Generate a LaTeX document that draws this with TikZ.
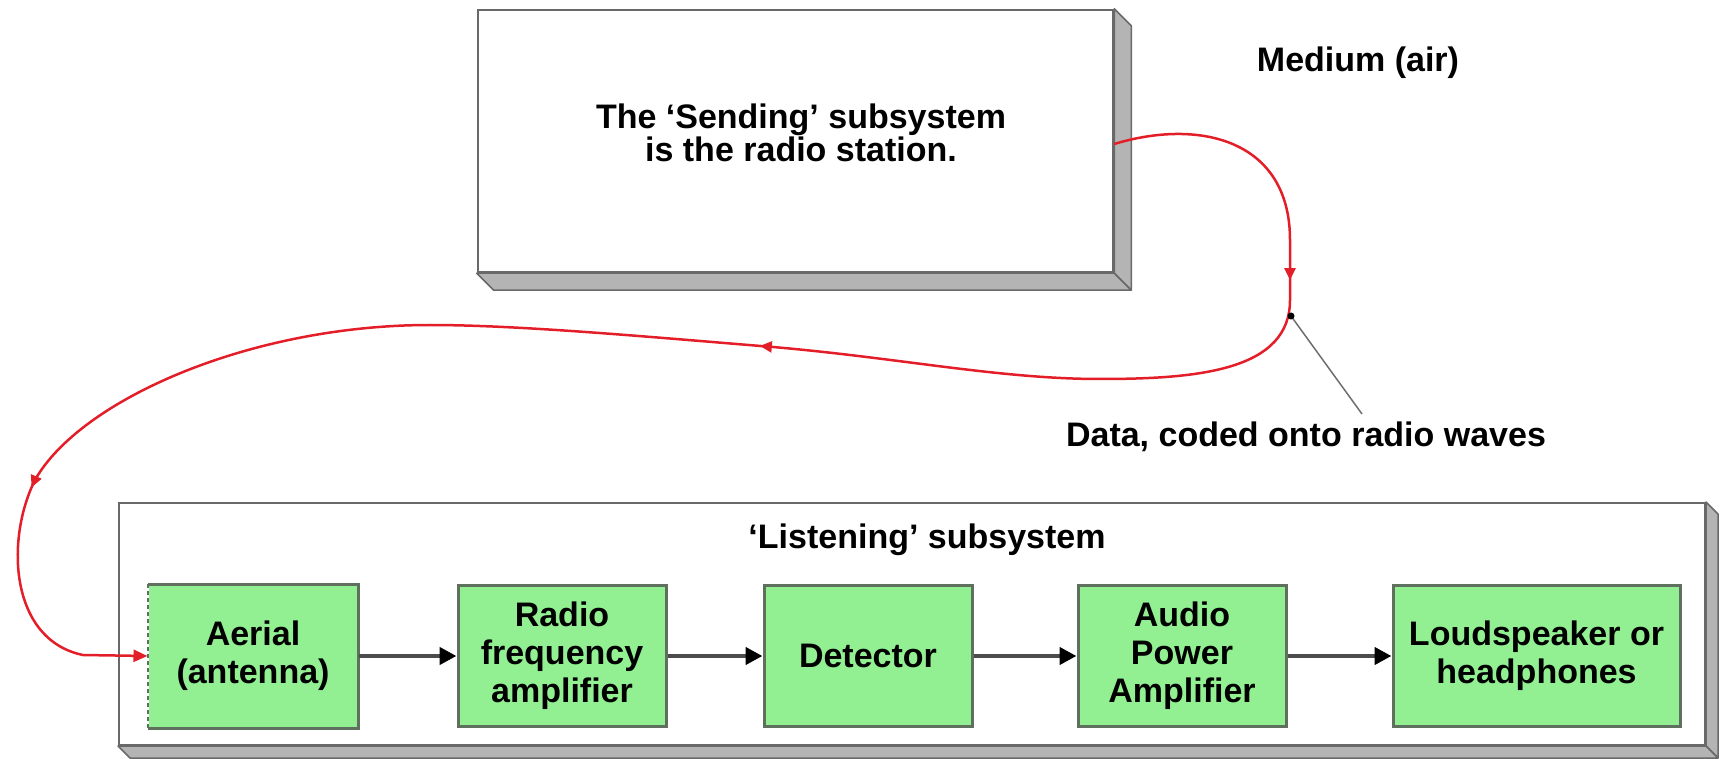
\documentclass[tikz,border=0pt]{standalone}
\usepackage{fontspec}
\setmainfont{Liberation Sans}
\usetikzlibrary{arrows.meta,decorations.markings}
\definecolor{boxgreen}{RGB}{146,240,146}
\definecolor{greenedge}{RGB}{95,112,95}
\definecolor{wave}{RGB}{228,30,40}
\definecolor{edgegray}{RGB}{105,105,105}
\definecolor{facegray}{RGB}{180,180,180}
\definecolor{pointer}{RGB}{110,110,110}
\begin{document}
\begin{tikzpicture}[x=1pt,y=-1pt,
  lbl/.style={inner sep=0pt, font=\bfseries\fontsize{34}{29}\selectfont},
  stage/.style={fill=boxgreen, draw=greenedge, line width=3pt, minimum width=208pt,
    minimum height=141pt, inner sep=0pt, align=center,
    font=\bfseries\fontsize{34}{38}\selectfont},
  frontbox/.style={fill=white, draw=edgegray, line width=2.5pt, inner sep=0pt},
  face/.style={fill=facegray, draw=edgegray, line width=1.5pt, line join=round},
  flow/.style={draw=black!70, line width=4.5pt, -{Triangle[length=17pt,width=17pt,color=black]}},
  wavepath/.style={draw=wave, line width=2.5pt, line join=round,
    -{Triangle[length=14pt,width=12pt]},
    postaction={decorate, decoration={markings,
      mark=at position 280pt with {\arrow{Triangle[length=12pt,width=11pt]}},
      mark=at position 870pt with {\arrow{Triangle[length=12pt,width=11pt]}},
      mark=at position 1648pt with {\arrow{Triangle[length=12pt,width=11pt]}}}}}
]
\useasboundingbox (0,0) rectangle (1725,759);

% Sending subsystem box
\node[frontbox, minimum width=635pt, minimum height=262pt] (send) at (795.5,141) {};
\draw[face] (send.north east) -- ([shift={(17,17)}]send.north east) -- ([shift={(17,17)}]send.south east) -- (send.south east) -- cycle;
\draw[face] (send.south west) -- (send.south east) -- ([shift={(17,17)}]send.south east) -- ([shift={(17,17)}]send.south west) -- cycle;
\node[lbl, align=center] (sendtxt) at (801,133) {The `Sending' subsystem\\is the radio station.};

% Listening subsystem box
\node[frontbox, line width=2pt, minimum width=1586pt, minimum height=242pt] (listen) at (912,624) {};
\draw[face] (listen.north east) -- ([shift={(12,12)}]listen.north east) -- ([shift={(12,12)}]listen.south east) -- (listen.south east) -- cycle;
\draw[face] (listen.south west) -- (listen.south east) -- ([shift={(12,12)}]listen.south east) -- ([shift={(12,12)}]listen.south west) -- cycle;
\node[lbl, anchor=base] (listenlbl) at (927,548) {`Listening' subsystem};

% stages
\node[stage, draw=none] (aerial) at (253,656) {Aerial\\(antenna)};
\draw[greenedge, line width=3pt] (aerial.north west) -- (aerial.north east) -- (aerial.south east) -- (aerial.south west);
\draw[greenedge, line width=2pt, dashed, dash pattern=on 4pt off 3pt] (aerial.south west) -- (aerial.north west);
\node[stage] (rf) at (562,656) {Radio\\frequency\\amplifier};
\node[stage] (det) at (868,656) {Detector};
\node[stage] (apa) at (1182,656) {Audio\\Power\\Amplifier};
\node[stage, minimum width=287pt] (spk) at (1536.5,656) {Loudspeaker or\\headphones};

\draw[flow] (aerial.east) -- (rf.west);
\draw[flow] (rf.east) -- (det.west);
\draw[flow] (det.east) -- (apa.west);
\draw[flow] (apa.east) -- (spk.west);

% labels
\node[lbl, anchor=base] (medium) at (1358,72) {Medium (air)};
\node[lbl, anchor=base] (data) at (1306,446) {Data, coded onto radio waves};

% radio wave path
\draw[wavepath] ([yshift=-3pt]send.east)
  .. controls (1200,118) and (1290,140) .. (1290,240)
  -- (1290,300)
  .. controls (1290,370) and (1200,379) .. (1100,379)
  .. controls (1000,379) and (900,358) .. (773,347)
  .. controls (650,337) and (520,325) .. (430,325)
  .. controls (250,325) and (80,400) .. (35,480)
  .. controls (5,540) and (10,640) .. (83,655)
  -- (aerial.west);

% pointer to the wave
\coordinate (wavept) at (1291,316);
\coordinate (ptrend) at (1362,414);
\draw[pointer, line width=1.5pt] (ptrend) -- (wavept);
\fill[black] (wavept) circle (3.5pt);
\end{tikzpicture}
\end{document}
